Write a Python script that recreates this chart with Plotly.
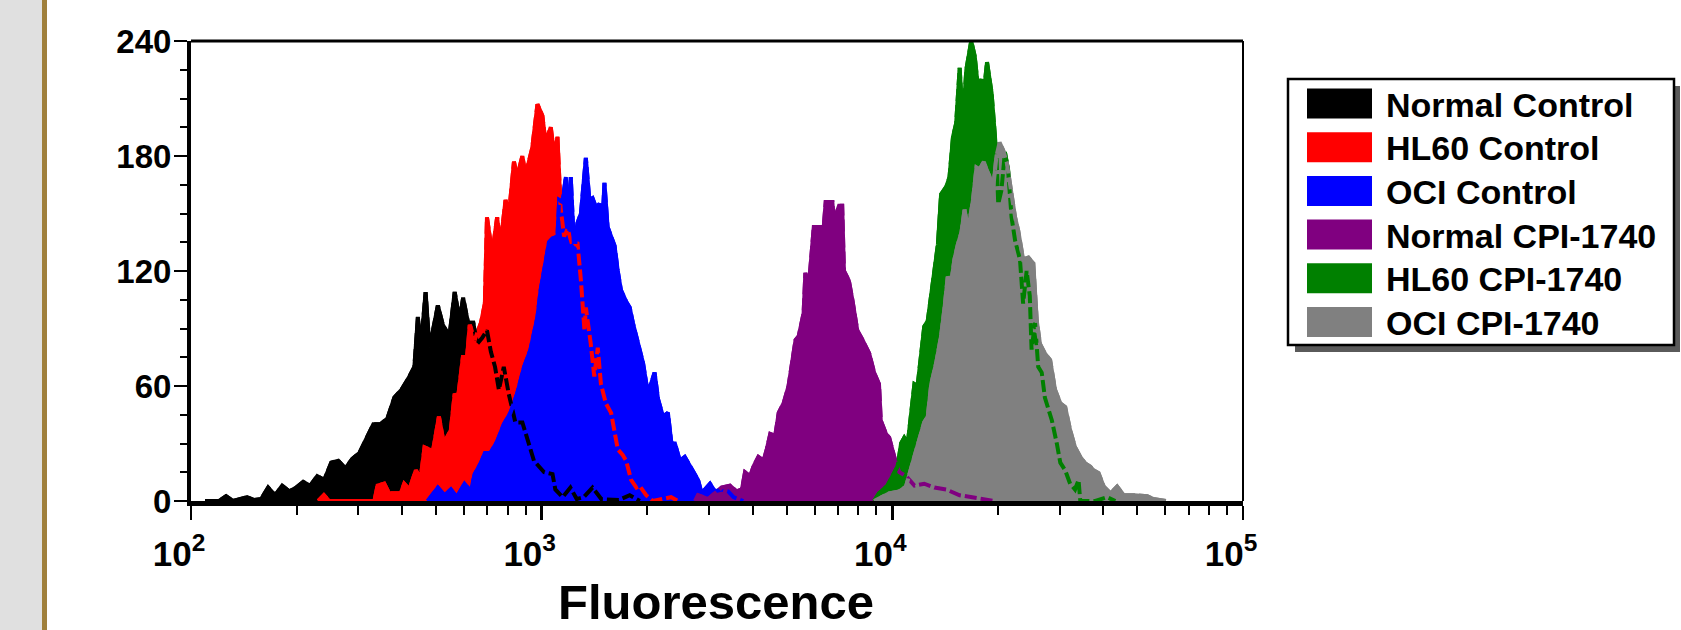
import plotly.graph_objects as go

W, H = 1681, 630
PL, PR, PT, PB = 191, 1243, 41, 501


def px_x(px):
    return (px - PL) / (PR - PL)


def px_y(py):
    return (PB - py) / (PB - PT)


FONT = "Liberation Sans, Arial, sans-serif"

series_names = ["Normal Control", "HL60 Control", "OCI Control",
                "Normal CPI-1740", "HL60 CPI-1740", "OCI CPI-1740"]
series_colors = ["#000000", "#ff0000", "#0000ff", "#800080", "#008000", "#808080"]

x_tick_vals = [100, 1000, 10000, 100000]
x_tick_text = ["10<sup>2</sup>", "10<sup>3</sup>", "10<sup>4</sup>", "10<sup>5</sup>"]
y_tick_vals = [0, 60, 120, 180, 240]

# log10(fluorescence) positions and event counts
normal_control_log = [2.04, 2.08, 2.10, 2.12, 2.16, 2.18, 2.20,
                      2.22, 2.24, 2.26, 2.28, 2.30, 2.32, 2.34, 2.36, 2.38, 2.40,
                      2.42, 2.44, 2.46, 2.48, 2.50, 2.52, 2.54, 2.56, 2.58, 2.60, 2.62,
                      2.637, 2.647, 2.655, 2.669, 2.680, 2.690, 2.704, 2.718, 2.737, 2.752,
                      2.766, 2.776, 2.790, 2.805, 2.816, 2.830, 2.844, 2.855, 2.867, 2.878,
                      2.892, 2.906, 2.925, 2.945, 2.964, 2.978, 3.007, 3.031, 3.039, 3.06,
                      3.082, 3.10, 3.12, 3.145, 3.17, 3.22, 3.251, 3.28]
normal_control_count = [0, 0, 2.5, 0, 2, 0.5, 1,
                        7, 3, 8, 5, 7, 10, 8, 13, 11, 20,
                        21, 17, 22, 25, 33, 40, 40, 43, 54, 58, 64,
                        70, 96, 79, 109, 80, 89, 102, 92, 86, 109,
                        94, 106, 93, 93, 82, 85, 89, 78, 70, 58,
                        70, 56, 41, 41, 30, 21, 15, 14, 6, 2,
                        7, 1, 2, 7, 1, 0.5, 3, 0]

hl60_control_log = [2.363, 2.379, 2.394, 2.523, 2.532, 2.551, 2.565, 2.598, 2.608, 2.623,
                    2.641, 2.655, 2.666, 2.690, 2.707, 2.721, 2.741, 2.752, 2.761, 2.776,
                    2.784, 2.795, 2.809, 2.827, 2.838, 2.844, 2.859, 2.873, 2.882, 2.897,
                    2.907, 2.921, 2.930, 2.945, 2.954, 2.964, 2.973, 2.988, 3.002, 3.011,
                    3.026, 3.036, 3.045, 3.054, 3.064, 3.074, 3.088, 3.102, 3.112, 3.122,
                    3.126, 3.140, 3.150, 3.160, 3.169, 3.183, 3.198, 3.217, 3.231, 3.241,
                    3.255, 3.270, 3.279, 3.298, 3.317, 3.369, 3.389]
hl60_control_count = [0, 3, 0, 0, 8, 9, 4, 4, 9, 6,
                      16, 12, 28, 26, 44, 30, 37, 56, 53, 76,
                      68, 92, 84, 93, 103, 148, 129, 148, 133, 157,
                      150, 177, 169, 180, 170, 178, 184, 207, 201, 187,
                      195, 180, 190, 153, 138, 142, 133, 135, 115, 89,
                      101, 82, 65, 80, 61, 51, 46, 27, 24, 21,
                      11, 7, 8, 3, 0, 2, 0]

oci_control_log = [2.675, 2.704, 2.723, 2.741, 2.758, 2.780, 2.798, 2.809, 2.827, 2.838,
                   2.854, 2.873, 2.892, 2.911, 2.930, 2.950, 2.968, 2.988, 2.997, 3.011,
                   3.021, 3.031, 3.045, 3.050, 3.059, 3.069, 3.079, 3.083, 3.093, 3.102,
                   3.112, 3.126, 3.136, 3.145, 3.155, 3.165, 3.174, 3.179, 3.188, 3.198,
                   3.208, 3.217, 3.226, 3.241, 3.251, 3.260, 3.274, 3.289, 3.303, 3.322,
                   3.332, 3.346, 3.360, 3.370, 3.380, 3.394, 3.408, 3.423, 3.432, 3.446,
                   3.456, 3.480, 3.494, 3.513, 3.532, 3.547, 3.575]
oci_control_count = [0, 7, 3, 6, 2, 9, 5, 14, 20, 25,
                     25, 31, 40, 46, 56, 70, 79, 96, 110, 124,
                     135, 137, 138, 157, 156, 169, 141, 169, 129, 145,
                     150, 179, 157, 158, 153, 155, 147, 166, 143, 138,
                     133, 120, 110, 104, 101, 93, 82, 72, 56, 67,
                     53, 44, 46, 30, 30, 21, 23, 18, 15, 11,
                     4, 9, 5, 6, 5, 2, 0]

normal_cpi_log = [3.438, 3.446, 3.475, 3.513, 3.537, 3.556, 3.571, 3.580, 3.595, 3.604,
                  3.618, 3.633, 3.642, 3.652, 3.666, 3.676, 3.690, 3.704, 3.714, 3.724,
                  3.733, 3.747, 3.752, 3.762, 3.776, 3.795, 3.800, 3.810, 3.829, 3.833,
                  3.848, 3.857, 3.862, 3.876, 3.886, 3.900, 3.915, 3.934, 3.948, 3.962,
                  3.967, 3.982, 3.991, 4.001, 4.010, 4.020, 4.039, 4.063, 4.091, 4.120,
                  4.154, 4.192, 4.254, 4.292]
normal_cpi_count = [0, 3, 1, 7, 8, 5, 6, 15, 13, 18,
                    23, 21, 27, 35, 34, 46, 51, 60, 72, 84,
                    86, 98, 119, 112, 143, 143, 133, 156, 156, 146,
                    154, 154, 120, 115, 105, 89, 84, 77, 67, 61,
                    42, 35, 33, 25, 20, 15, 13, 8, 9, 7,
                    6, 3, 1, 0]

hl60_cpi_log = [3.948, 3.962, 3.986, 4.001, 4.015, 4.025, 4.034, 4.044, 4.053, 4.063,
                4.072, 4.082, 4.091, 4.101, 4.111, 4.120, 4.130, 4.139, 4.154, 4.163,
                4.173, 4.182, 4.192, 4.201, 4.211, 4.225, 4.235, 4.244, 4.254, 4.261,
                4.270, 4.283, 4.292, 4.297, 4.302, 4.311, 4.321, 4.330, 4.340, 4.350,
                4.364, 4.373, 4.383, 4.392, 4.397, 4.407, 4.416, 4.426, 4.435, 4.455,
                4.469, 4.479, 4.493, 4.507, 4.521, 4.531, 4.536, 4.579, 4.612, 4.636]
hl60_cpi_count = [0, 4, 8, 13, 18, 30, 33, 30, 46, 61,
                  60, 75, 91, 94, 107, 120, 134, 160, 164, 169,
                  190, 197, 226, 197, 225, 240, 232, 216, 220, 213,
                  229, 213, 195, 180, 155, 162, 182, 173, 148, 136,
                  126, 103, 120, 107, 79, 93, 70, 67, 54, 42,
                  30, 20, 16, 9, 6, 11, 0, 0, 2, 0]

oci_cpi_log = [3.948, 3.991, 4.020, 4.039, 4.058, 4.077, 4.091, 4.101, 4.111, 4.125,
               4.139, 4.149, 4.158, 4.168, 4.177, 4.187, 4.197, 4.206, 4.216, 4.230,
               4.240, 4.249, 4.261, 4.268, 4.278, 4.287, 4.297, 4.306, 4.316, 4.326,
               4.335, 4.350, 4.359, 4.373, 4.388, 4.402, 4.412, 4.421, 4.435, 4.450,
               4.464, 4.479, 4.493, 4.507, 4.521, 4.536, 4.550, 4.564, 4.574, 4.588,
               4.603, 4.622, 4.641, 4.660, 4.689, 4.727, 4.745, 4.780]
oci_cpi_count = [0, 4, 5, 7.5, 20, 32, 41, 44, 61, 72,
                 86, 101, 117, 114, 126, 134, 140, 152, 141, 157,
                 174, 173, 177, 173, 169, 162, 180, 187, 183, 177,
                 166, 148, 141, 126, 127, 124, 94, 82, 77, 73.5,
                 58, 51, 49, 37, 28, 23, 19.6, 18, 16, 14.5,
                 7.5, 4, 7.5, 3, 3, 2.5, 1, 0]

series_logs = [normal_control_log, hl60_control_log, oci_control_log,
               normal_cpi_log, hl60_cpi_log, oci_cpi_log]
series_counts = [normal_control_count, hl60_control_count, oci_control_count,
                 normal_cpi_count, hl60_cpi_count, oci_cpi_count]

fig = go.Figure()

# filled histograms, drawn in order (solid outline of the same colour)
for name, color, lg, ct in zip(series_names, series_colors, series_logs, series_counts):
    fig.add_trace(go.Scatter(
        x=[10 ** v for v in lg], y=ct, mode="lines", name=name,
        fill="tozeroy", fillcolor=color,
        line=dict(color=color, width=4),
        showlegend=False, hoverinfo="skip"))

# outlines on top, broken where they cross other fills
for name, color, lg, ct in zip(series_names, series_colors, series_logs, series_counts):
    fig.add_trace(go.Scatter(
        x=[10 ** v for v in lg], y=ct, mode="lines", name=name,
        line=dict(color=color, width=4, dash="12px,4px"),
        showlegend=False, hoverinfo="skip"))

shapes = []
annotations = []

# left page strip
shapes.append(dict(type="rect", xref="paper", yref="paper",
                   x0=px_x(0), x1=px_x(42), y0=px_y(H), y1=px_y(0),
                   fillcolor="#e0e0e0", line=dict(width=0), layer="below"))
shapes.append(dict(type="rect", xref="paper", yref="paper",
                   x0=px_x(42), x1=px_x(47), y0=px_y(H), y1=px_y(0),
                   fillcolor="#a0803c", line=dict(width=0), layer="below"))

# top and right frame
shapes.append(dict(type="line", xref="paper", yref="paper", x0=0, x1=1, y0=1, y1=1,
                   line=dict(color="black", width=3)))
shapes.append(dict(type="line", xref="paper", yref="paper", x0=1, x1=1, y0=0, y1=1,
                   line=dict(color="black", width=2)))

# legend box with shadow
LX0, LX1, LY0, LY1 = 1288, 1674, 79, 345
shapes.append(dict(type="rect", xref="paper", yref="paper",
                   x0=px_x(LX0 + 7), x1=px_x(LX1 + 6), y0=px_y(LY1 + 7), y1=px_y(LY0 + 7),
                   fillcolor="#5a5a5a", line=dict(width=0)))
shapes.append(dict(type="rect", xref="paper", yref="paper",
                   x0=px_x(LX0), x1=px_x(LX1), y0=px_y(LY1), y1=px_y(LY0),
                   fillcolor="white", line=dict(color="black", width=2.5)))
for i, (name, color) in enumerate(zip(series_names, series_colors)):
    cy = 103.5 + i * 43.7
    shapes.append(dict(type="rect", xref="paper", yref="paper",
                       x0=px_x(1307), x1=px_x(1372), y0=px_y(cy + 15), y1=px_y(cy - 15),
                       fillcolor=color, line=dict(width=0)))
    annotations.append(dict(xref="paper", yref="paper", x=px_x(1384), y=px_y(cy + 1),
                            text=name, showarrow=False, xanchor="left", yanchor="middle",
                            font=dict(family=FONT, size=34, color="black", weight="bold")))

annotations.append(dict(xref="paper", yref="paper", x=px_x(716), y=px_y(602),
                        text="Fluorescence", showarrow=False, xanchor="center", yanchor="middle",
                        font=dict(family=FONT, size=49, color="black", weight="bold")))

fig.update_layout(
    width=W, height=H,
    margin=dict(l=PL, r=W - PR, t=PT, b=H - PB, pad=0),
    paper_bgcolor="white", plot_bgcolor="white",
    shapes=shapes, annotations=annotations, showlegend=False,
    xaxis=dict(type="log", range=[2, 5], tickvals=x_tick_vals, ticktext=x_tick_text,
               showgrid=False, zeroline=False,
               showline=True, linecolor="black", linewidth=5,
               ticks="outside", ticklen=14, tickwidth=2.5, tickcolor="black",
               tickfont=dict(family=FONT, size=35, color="black", weight="bold"),
               ticklabelstandoff=4, ticklabelshift=-12,
               minor=dict(ticks="outside", ticklen=9, tickwidth=2, tickcolor="black",
                          tickmode="array",
                          tickvals=[m * 10 ** e for e in (2, 3, 4) for m in range(2, 10)]),
               fixedrange=True),
    yaxis=dict(range=[0, 240], tickvals=y_tick_vals,
               showgrid=False, zeroline=False,
               showline=True, linecolor="black", linewidth=4,
               ticks="outside", ticklen=13, tickwidth=2.5, tickcolor="black",
               tickfont=dict(family=FONT, size=33, color="black", weight="bold"),
               ticklabelstandoff=-4,
               minor=dict(ticks="outside", ticklen=7, tickwidth=2, tickcolor="black",
                          dtick=15),
               fixedrange=True),
)

fig.write_html("out.html", config={"displayModeBar": False, "staticPlot": True},
               post_script="document.body.style.margin='0px';document.body.style.overflow='hidden';")
